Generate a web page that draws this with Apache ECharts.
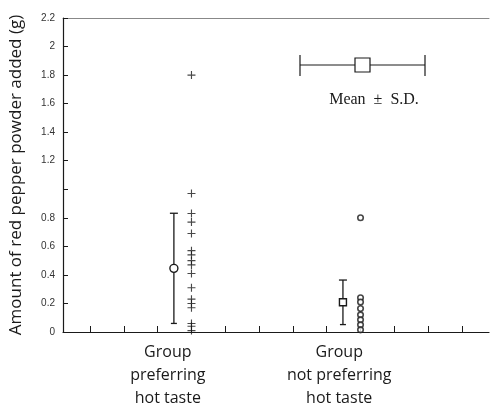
<!DOCTYPE html>
<html>
<head>
<meta charset="utf-8">
<script src="https://cdn.jsdelivr.net/npm/echarts@6/dist/echarts.min.js"></script>
<style>html,body{margin:0;padding:0;background:#fff}#c{width:490px;height:411px}</style>
</head>
<body>
<div id="c"></div>
<script>
const categories = ['Group\npreferring\nhot taste', 'Group\nnot preferring\nhot taste'];
const preferringValues = [1.8, 0.97, 0.83, 0.77, 0.69, 0.57, 0.54, 0.5, 0.47, 0.41, 0.31, 0.23, 0.2, 0.17, 0.06, 0.04, 0.01];
const notPreferringValues = [0.8, 0.24, 0.21, 0.165, 0.12, 0.085, 0.05, 0.015];
const means = [0.446, 0.208];
const sds = [0.386, 0.156];
const yTickLabels = [0, 0.2, 0.4, 0.6, 0.8, 1.2, 1.4, 1.6, 1.8, 2, 2.2];
const yTicks = [0, 0.2, 0.4, 0.6, 0.8, 1.0, 1.2, 1.4, 1.6, 1.8, 2, 2.2];
const yAxisTitle = 'Amount of red pepper powder added (g)';
const legendText = 'Mean  \u00b1  S.D.';

const pointX = [3, 8];
const barX = [2.48, 7.48];
const labelX = [2.3, 7.37];

const chart = echarts.init(document.getElementById('c'), null, {renderer: 'canvas'});
const ink = '#1a1a1a';
const sansFont = '"Open Sans"';

const plusPath = 'path://M4.3,0H5.7V10H4.3ZM0,4.3H10V5.7H0Z';

const option = {
  animation: false,
  backgroundColor: '#fff',
  grid: {left: 63, right: 1, top: 18, bottom: 79, containLabel: false},
  xAxis: [{
    type: 'value', min: -0.8, max: 11.8, position: 'bottom',
    axisLine: {show: true, onZero: false, lineStyle: {color: ink, width: 1.2}},
    axisTick: {show: true, inside: true, length: 6, customValues: [0,1,2,3,4,5,6,7,8,9,10,11], lineStyle: {color: ink}},
    splitLine: {show: false},
    axisLabel: {
      show: true, customValues: labelX, margin: 9,
      formatter: function (v) {
        const i = labelX.findIndex(function (p) { return Math.abs(p - v) < 1e-6; });
        return i >= 0 ? categories[i] : '';
      },
      fontFamily: sansFont, fontSize: 16, color: ink, lineHeight: 23, align: 'center'
    }
  }, {
    type: 'value', min: -0.8, max: 11.8, position: 'top',
    axisLine: {show: true, onZero: false, lineStyle: {color: '#888', width: 1}},
    axisTick: {show: false}, axisLabel: {show: false}, splitLine: {show: false}
  }],
  yAxis: {
    type: 'value', min: 0, max: 2.2,
    name: yAxisTitle, nameLocation: 'middle', nameRotate: 90, nameGap: 38,
    nameTextStyle: {fontFamily: sansFont, fontSize: 17, color: ink},
    axisLine: {show: true, onZero: false, lineStyle: {color: ink, width: 1.2}},
    axisTick: {show: true, inside: true, length: 5, customValues: yTicks, lineStyle: {color: ink}},
    splitLine: {show: false},
    axisLabel: {
      customValues: yTickLabels, margin: 8,
      formatter: function (v) { return String(+(+v).toFixed(1)); },
      fontFamily: 'Liberation Sans', fontSize: 10, color: '#333'
    }
  },
  series: [{
    type: 'scatter', name: 'preferring',
    data: preferringValues.map(function (v) { return [pointX[0], v]; }),
    symbol: plusPath, symbolSize: 8,
    itemStyle: {color: ink}
  }, {
    type: 'scatter', name: 'not preferring',
    data: notPreferringValues.map(function (v) { return [pointX[1], v]; }),
    symbol: 'circle', symbolSize: 5.5,
    itemStyle: {color: '#fff', borderColor: ink, borderWidth: 1.6}
  }, {
    type: 'custom', name: 'meanSD',
    data: means.map(function (m, i) { return [barX[i], m, sds[i], i]; }),
    renderItem: function (params, api) {
      const x = api.value(0), m = api.value(1), s = api.value(2), idx = api.value(3);
      const pTop = api.coord([x, m + s]);
      const pMid = api.coord([x, m]);
      const pBot = api.coord([x, Math.max(0, m - s)]);
      const st = {stroke: ink, lineWidth: 1.3};
      const children = [
        {type: 'line', shape: {x1: pTop[0], y1: pTop[1], x2: pBot[0], y2: pBot[1]}, style: st},
        {type: 'line', shape: {x1: pTop[0] - 4, y1: pTop[1], x2: pTop[0] + 4, y2: pTop[1]}, style: st},
        {type: 'line', shape: {x1: pBot[0] - 3, y1: pBot[1], x2: pBot[0] + 3, y2: pBot[1]}, style: st}
      ];
      if (idx === 0) {
        children.push({type: 'circle', shape: {cx: pMid[0], cy: pMid[1], r: 4}, style: {fill: '#fff', stroke: ink, lineWidth: 1.4}});
      } else {
        children.push({type: 'rect', shape: {x: pMid[0] - 3.5, y: pMid[1] - 3.5, width: 7, height: 7}, style: {fill: '#fff', stroke: ink, lineWidth: 1.4}});
      }
      return {type: 'group', children: children};
    }
  }],
  graphic: [
    {type: 'line', shape: {x1: 300, y1: 65, x2: 425, y2: 65}, style: {stroke: ink, lineWidth: 1}},
    {type: 'line', shape: {x1: 300, y1: 55, x2: 300, y2: 76}, style: {stroke: ink, lineWidth: 1.2}},
    {type: 'line', shape: {x1: 425, y1: 55, x2: 425, y2: 76}, style: {stroke: ink, lineWidth: 1.2}},
    {type: 'rect', shape: {x: 355, y: 58, width: 15, height: 14}, style: {fill: '#fff', stroke: ink, lineWidth: 1.2}},
    {type: 'text', x: 374, y: 100, style: {text: legendText, font: '16px "Liberation Serif"', fill: ink, textAlign: 'center', textVerticalAlign: 'middle'}}
  ]
};
chart.setOption(option);
</script>
</body>
</html>
